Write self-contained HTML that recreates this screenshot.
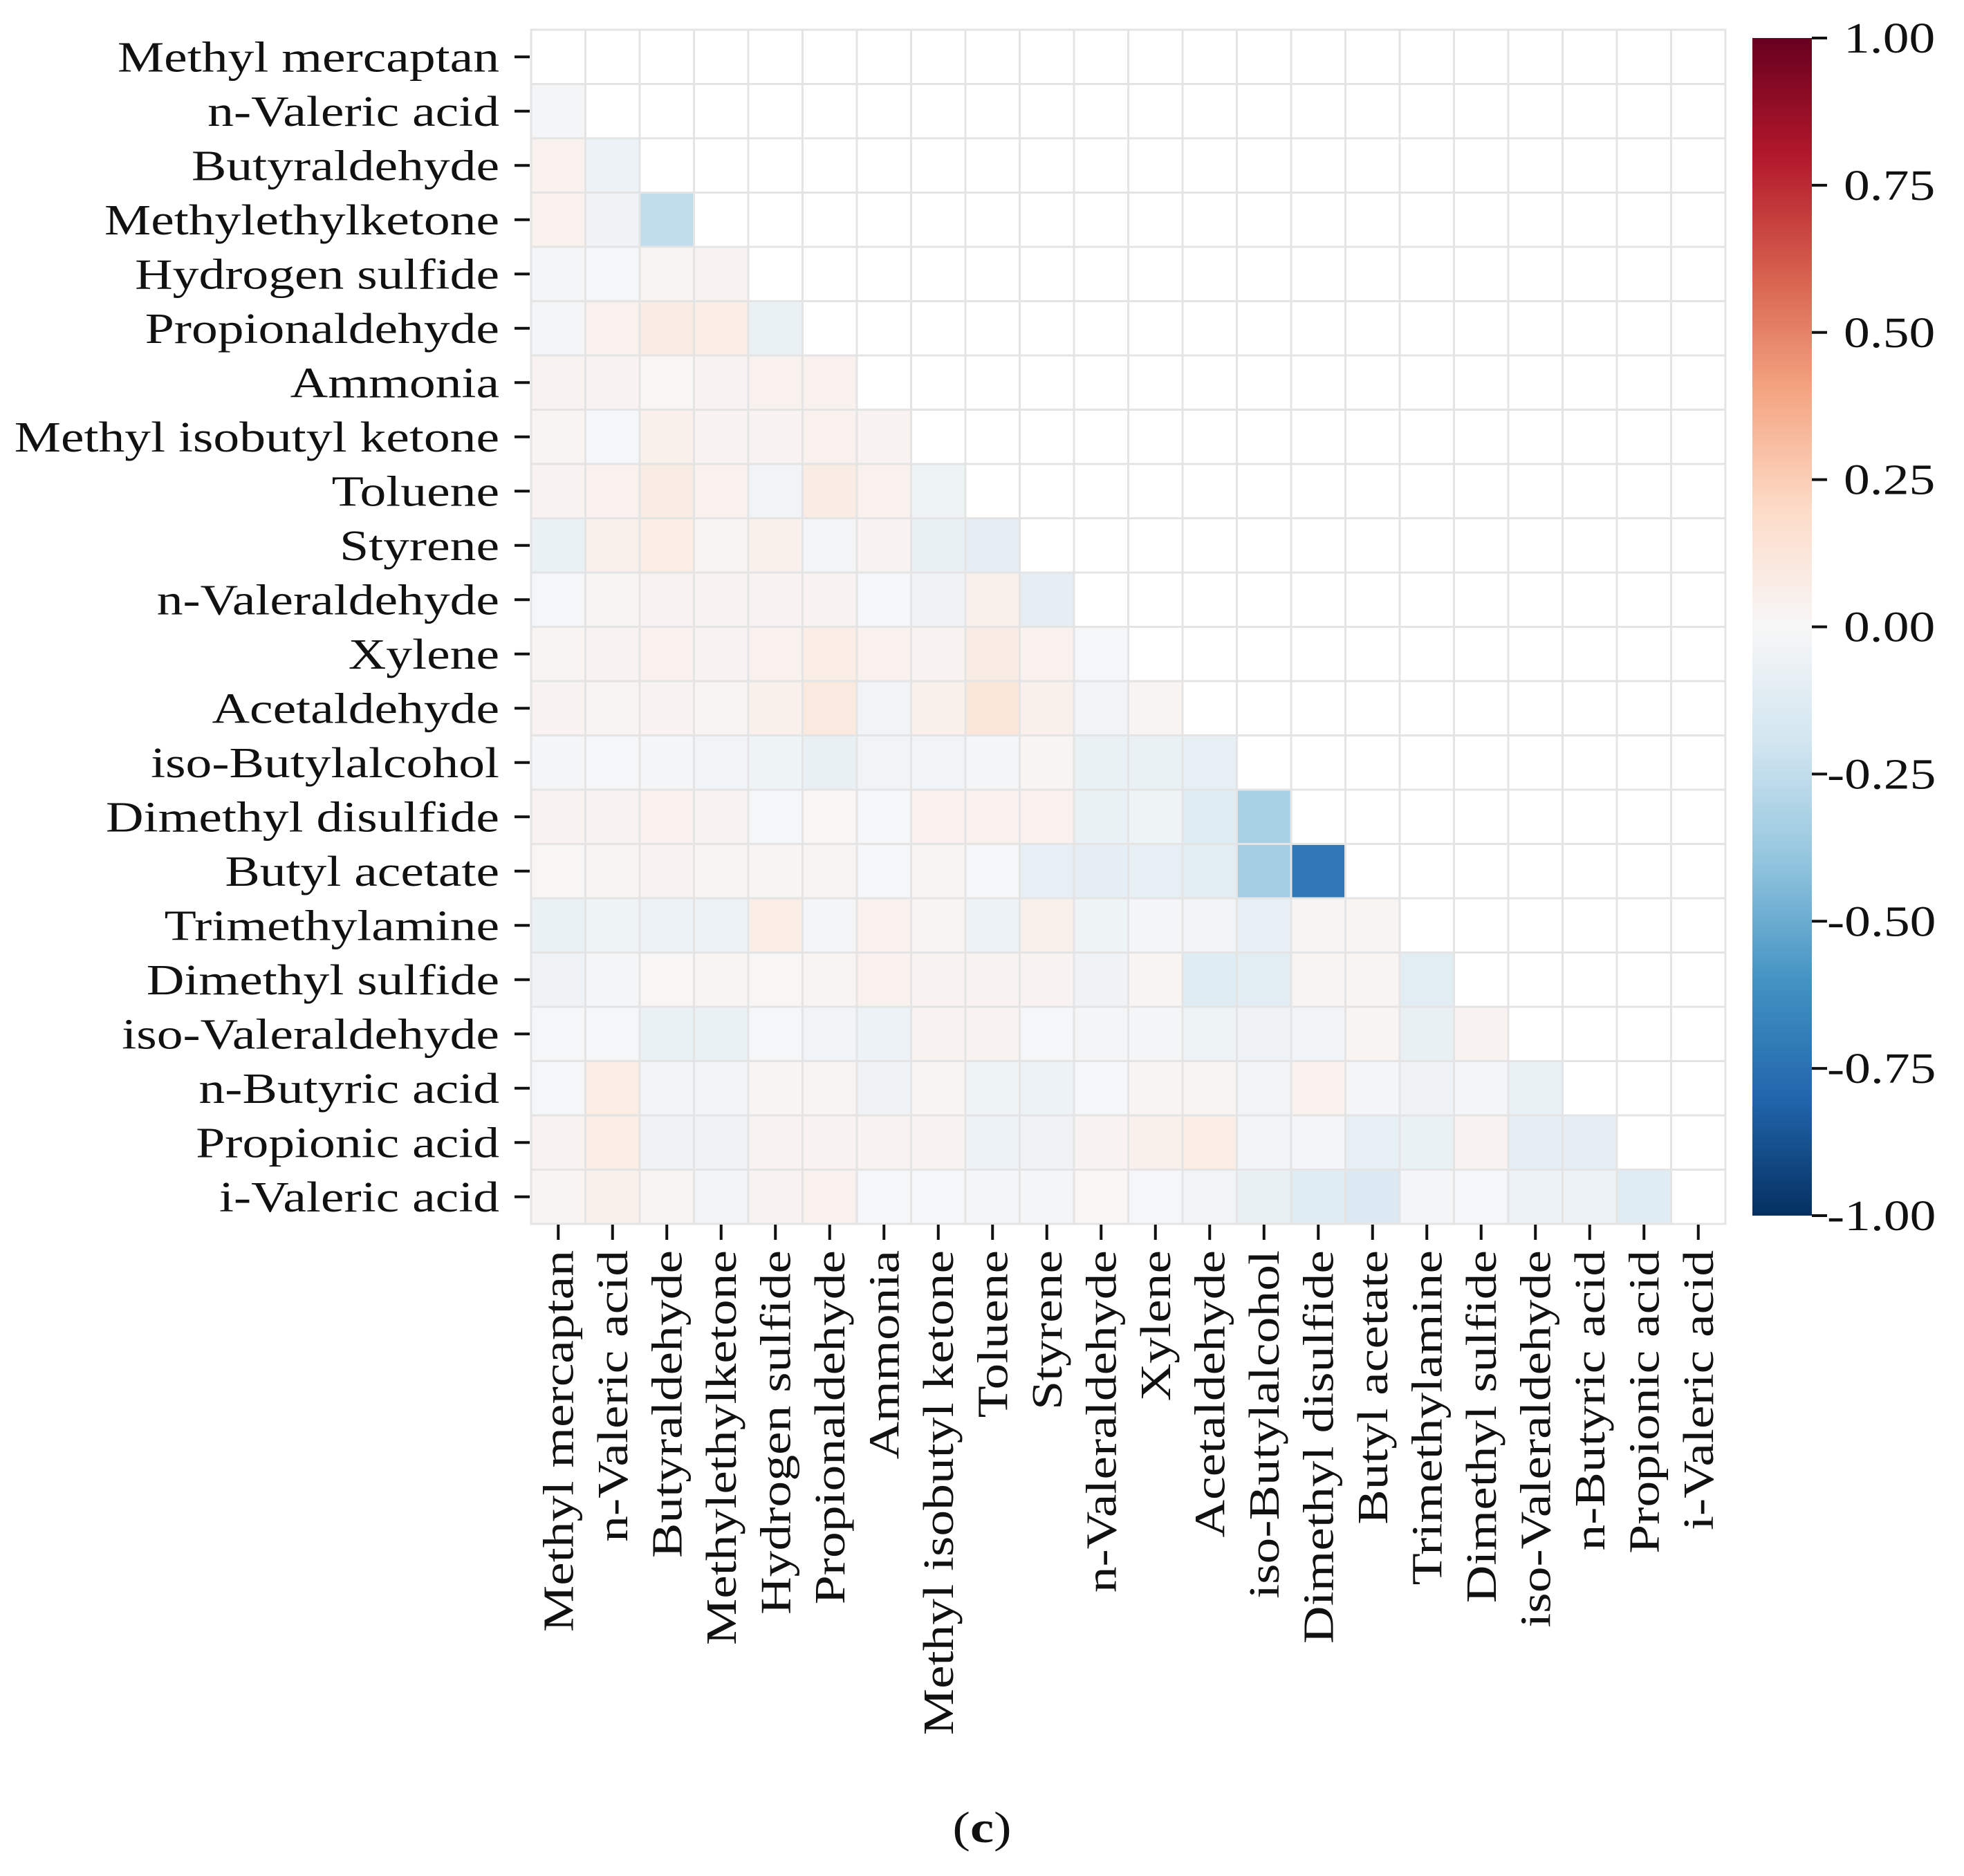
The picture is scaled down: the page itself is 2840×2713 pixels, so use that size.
<!DOCTYPE html>
<html><head><meta charset="utf-8"><style>
html,body{margin:0;padding:0;background:#fff;}
svg{display:block;}
text{font-family:"Liberation Serif",serif;fill:#111;}
</style></head><body>
<svg id="chart" width="2840" height="2713" viewBox="0 0 2840 2713" xmlns="http://www.w3.org/2000/svg">
<defs><linearGradient id="cbgrad" x1="0" y1="1" x2="0" y2="0">
<stop offset="0" stop-color="#053061"/><stop offset="0.1" stop-color="#2166ac"/><stop offset="0.2" stop-color="#4393c3"/><stop offset="0.3" stop-color="#92c5de"/><stop offset="0.4" stop-color="#d1e5f0"/><stop offset="0.5" stop-color="#f7f7f7"/><stop offset="0.6" stop-color="#fddbc7"/><stop offset="0.7" stop-color="#f4a582"/><stop offset="0.8" stop-color="#d6604d"/><stop offset="0.9" stop-color="#b2182b"/><stop offset="1" stop-color="#67001f"/>
</linearGradient></defs>
<g id="cells"></g>
<g id="ylabels"></g>
<g id="xlabels"></g>
<g id="cbar">
<rect x="2534" y="55" width="86" height="1703" fill="url(#cbgrad)"/>
</g>
<text transform="translate(1420,2664) scale(1.2,1)" font-size="64" text-anchor="middle">(<tspan font-weight="bold">c</tspan>)</text>
</svg>
<script>
const labels = ["Methyl mercaptan","n-Valeric acid","Butyraldehyde","Methylethylketone","Hydrogen sulfide","Propionaldehyde","Ammonia","Methyl isobutyl ketone","Toluene","Styrene","n-Valeraldehyde","Xylene","Acetaldehyde","iso-Butylalcohol","Dimethyl disulfide","Butyl acetate","Trimethylamine","Dimethyl sulfide","iso-Valeraldehyde","n-Butyric acid","Propionic acid","i-Valeric acid"];
const row1 = [-0.02];
const row2 = [0.04,-0.06];
const row3 = [0.04,-0.04,-0.25];
const row4 = [-0.02,-0.01,0.02,0.03];
const row5 = [-0.02,0.04,0.08,0.07,-0.07];
const row6 = [0.03,0.03,0.01,0.03,0.04,0.04];
const row7 = [0.02,-0.01,0.05,0.03,0.03,0.04,0.03];
const row8 = [0.03,0.04,0.08,0.04,-0.03,0.08,0.04,-0.05];
const row9 = [-0.07,0.05,0.07,0.02,0.05,-0.02,0.03,-0.08,-0.10];
const row10 = [-0.01,0.02,0.03,0.03,0.03,0.03,-0.01,-0.04,0.05,-0.10];
const row11 = [0.02,0.03,0.04,0.03,0.04,0.07,0.04,0.03,0.08,0.04,-0.01];
const row12 = [0.03,0.02,0.03,0.02,0.05,0.10,-0.03,0.05,0.12,0.05,-0.03,0.02];
const row13 = [-0.02,-0.01,-0.02,-0.03,-0.05,-0.08,-0.03,-0.03,-0.02,0.02,-0.07,-0.07,-0.09];
const row14 = [0.03,0.03,0.04,0.03,-0.01,0.01,-0.01,0.04,0.04,0.04,-0.07,-0.05,-0.12,-0.33];
const row15 = [0.01,0.02,0.03,0.02,0.02,0.02,-0.01,0.02,-0.01,-0.09,-0.10,-0.09,-0.11,-0.35,-0.72];
const row16 = [-0.07,-0.05,-0.06,-0.06,0.07,-0.02,0.04,0.02,-0.06,0.05,-0.05,-0.02,-0.03,-0.09,0.02,0.02];
const row17 = [-0.04,-0.02,0.01,0.02,0.01,0.02,0.04,0.03,0.03,0.03,-0.04,0.02,-0.12,-0.11,0.02,0.02,-0.11];
const row18 = [-0.01,-0.01,-0.07,-0.07,-0.01,-0.03,-0.06,0.03,0.03,-0.01,-0.02,-0.02,-0.05,-0.04,-0.03,0.02,-0.08,0.03];
const row19 = [-0.01,0.07,-0.03,-0.03,0.02,0.02,-0.04,0.02,-0.05,-0.06,-0.01,0.02,0.02,-0.03,0.04,-0.02,-0.04,-0.02,-0.07];
const row20 = [0.03,0.07,-0.04,-0.04,0.03,0.03,0.03,0.03,-0.06,-0.04,0.03,0.05,0.07,-0.03,-0.02,-0.09,-0.07,0.03,-0.10,-0.10];
const row21 = [0.02,0.05,0.02,-0.03,0.03,0.04,-0.01,-0.01,-0.02,-0.02,0.01,-0.01,-0.03,-0.08,-0.12,-0.15,-0.02,-0.01,-0.06,-0.06,-0.12];
const rows = [[],row1,row2,row3,row4,row5,row6,row7,row8,row9,row10,row11,row12,row13,row14,row15,row16,row17,row18,row19,row20,row21];
const cbTicks = [1.00,0.75,0.50,0.25,0.00,-0.25,-0.50,-0.75,-1.00];

const NS="http://www.w3.org/2000/svg";
const gx0=768, gy0=43, cell=78.5, n=labels.length;
const xPos=j=>gx0+j*cell, yPos=i=>gy0+i*cell;
const cbTop=55, cbBot=1758, cbX=2534, cbW=86;
const cbY=v=>cbBot-(v+1)/2*(cbBot-cbTop);
const stops=["#053061","#2166ac","#4393c3","#92c5de","#d1e5f0","#f7f7f7","#fddbc7","#f4a582","#d6604d","#b2182b","#67001f"].map(h=>[1,3,5].map(k=>parseInt(h.substr(k,2),16)));
function color(v){let t=(Math.max(-1,Math.min(1,v))+1)/2*10;let k=Math.min(9,Math.floor(t));let f=t-k;const a=stops[k],b=stops[k+1];return "rgb("+a.map((c,m)=>Math.round(c+(b[m]-c)*f)).join(",")+")";}
function mk(tag,attrs,parent){const e=document.createElementNS(NS,tag);for(const k in attrs)e.setAttribute(k,attrs[k]);parent.appendChild(e);return e;}

const cells=document.getElementById("cells");
for(let i=0;i<n;i++){for(let j=0;j<n;j++){
  const v = j<i ? rows[i][j] : null;
  const r=mk("rect",{x:xPos(j),y:yPos(i),width:cell,height:cell,fill:v===null?"#ffffff":color(v),stroke:"#e4e4e4","stroke-width":3},cells);
  
  
}}
const yl=document.getElementById("ylabels");
labels.forEach((lab,i)=>{
  const cy=yPos(i)+cell/2;
  const t=mk("line",{x1:744,x2:766,y1:cy,y2:cy,stroke:"#111","stroke-width":4},yl);
  
  
  const tx=mk("text",{x:0,y:0,"font-size":63,"text-anchor":"end",transform:"translate(722,"+(cy+21)+") scale(1.2,1)"},yl);
  tx.textContent=lab;
  
  
});
const xl=document.getElementById("xlabels");
labels.forEach((lab,j)=>{
  const cx=xPos(j)+cell/2;
  const t=mk("line",{x1:cx,x2:cx,y1:1771,y2:1793,stroke:"#111","stroke-width":4},xl);
  
  
  const tx=mk("text",{x:0,y:0,"font-size":63,"text-anchor":"end",transform:"translate("+(cx+21)+",1808) rotate(-90) scale(1.2,1)"},xl);
  tx.textContent=lab;
  
  
});
const cb=document.getElementById("cbar");
cbTicks.forEach(v=>{
  const y=cbY(v);
  const t=mk("line",{x1:cbX+cbW,x2:cbX+cbW+22,y1:y,y2:y,stroke:"#111","stroke-width":4},cb);
  
  
  const tx=mk("text",{x:0,y:0,"font-size":63,transform:"translate("+(cbX+cbW+(v<0?22:46))+","+(y+21)+") scale(1.2,1)"},cb);
  tx.textContent=v.toFixed(2);
  
  
});
</script>
</body></html>
